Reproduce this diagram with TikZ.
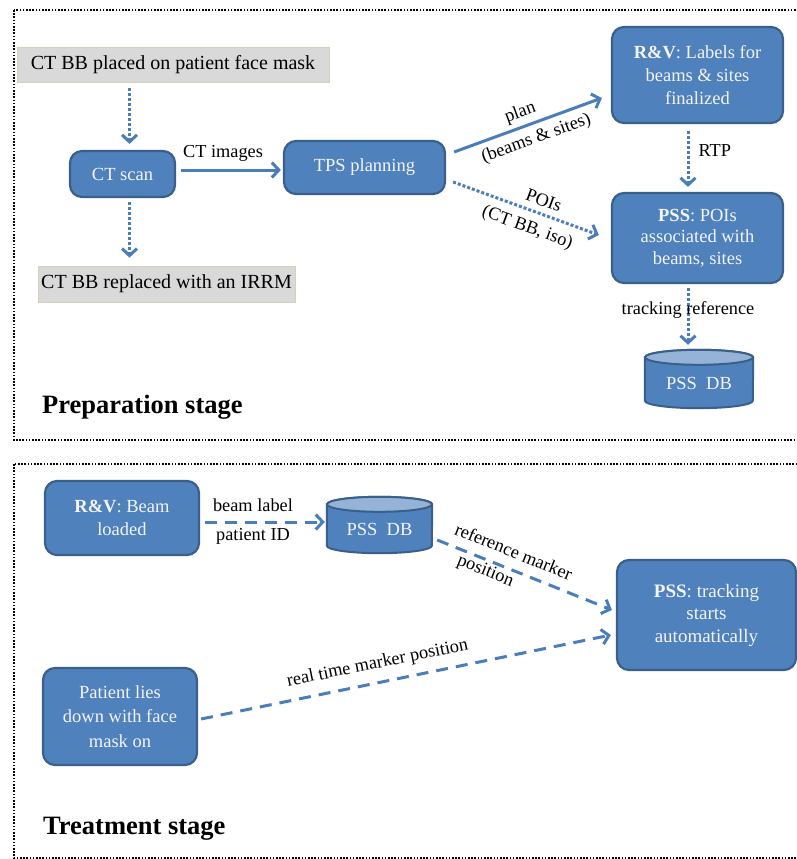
\documentclass[tikz,border=0pt]{standalone}
\usepackage{fontspec}
\setmainfont{Liberation Serif}
\usetikzlibrary{arrows.meta,backgrounds,calc}
\definecolor{boxblue}{HTML}{4F81BD}
\definecolor{boxedge}{HTML}{3A5F8B}
\definecolor{arrblue}{HTML}{4A7EBB}
\definecolor{dbtop}{HTML}{95B3D7}
\definecolor{grayfill}{HTML}{D9D9D9}
\definecolor{grayedge}{HTML}{D6D0B4}
\definecolor{boxtext}{HTML}{F4F4F4}
\newcommand\dbshape[3]{% node, x radius, y radius
  \draw[boxedge, line width=2pt, fill=boxblue]
    ([yshift=-#3]#1.north west) -- ([yshift=#3]#1.south west)
    arc[start angle=180, end angle=360, x radius=#2, y radius=#3]
    -- ([yshift=-#3]#1.north east)
    arc[start angle=0, end angle=180, x radius=#2, y radius=#3] -- cycle;
  \draw[boxedge, line width=2pt, fill=dbtop]
    ([yshift=-#3]#1.north) ellipse [x radius=#2, y radius=#3];
}
\begin{document}
\begin{tikzpicture}[x=1pt,y=-1pt,
 bluebox/.style={draw=boxedge, line width=2.2pt, fill=boxblue, rounded corners=12pt,
   text=boxtext, font=\fontsize{18.5}{23}\selectfont, align=center, inner sep=0pt},
 graybox/.style={draw=grayedge, line width=0.8pt, fill=grayfill,
   font=\fontsize{20}{22}\selectfont, inner sep=0pt},
 dbnode/.style={text=boxtext, font=\fontsize{18.5}{22}\selectfont, inner sep=0pt},
 flow/.style={draw=arrblue, line width=3pt, -{Straight Barb[length=7pt,width=15pt]}},
 dotflow/.style={flow, dash pattern=on 3pt off 2pt},
 dashflow/.style={flow, dash pattern=on 12pt off 8pt},
 lbl/.style={font=\fontsize{18.3}{20}\selectfont, inner sep=1pt},
 frame/.style={draw=black, line width=1.6pt, dash pattern=on 1.6pt off 1.6pt},
 stage/.style={font=\bfseries\fontsize{26.5}{28}\selectfont, anchor=west, inner sep=0pt}
]
\useasboundingbox (0,0) rectangle (797,859);
\clip (0,0) rectangle (797,859);

% frames
\draw[frame] (14,10) rectangle (810,440);
\draw[frame] (14,464) rectangle (810,858);

% preparation stage
\node[graybox, minimum width=312pt, minimum height=35pt] (bbplaced) at (173,64.5) {CT BB placed on patient face mask};
\node[bluebox, minimum width=105pt, minimum height=46pt] (ctscan) at (122.5,174) {CT scan};
\node[graybox, minimum width=257pt, minimum height=36pt] (repl) at (166.5,284) {CT BB replaced with an IRRM};
\node[bluebox, minimum width=161pt, minimum height=53pt] (tps) at (364.5,167.5) {TPS planning};
\node[bluebox, minimum width=171pt, minimum height=96pt] (rv1) at (697.5,75) {\textbf{R\&V}: Labels for\\beams \& sites\\finalized};
\node[bluebox, minimum width=171pt, minimum height=90pt, font=\fontsize{18.5}{21.5}\selectfont] (pss1) at (697.5,238) {\textbf{PSS}: POIs\\associated with\\beams, sites};
\node[dbnode, minimum width=108pt, minimum height=58pt] (db1) at (699,379) {\raisebox{-4pt}[\height][\depth]{PSS\ \ DB}};
\node[stage] (prep) at (42,407) {Preparation stage};

% treatment stage
\node[bluebox, minimum width=154pt, minimum height=74pt] (rv2) at (122,518) {\textbf{R\&V}: Beam\\loaded};
\node[dbnode, minimum width=105pt, minimum height=56pt] (db2) at (379.5,525) {\raisebox{-4pt}[\height][\depth]{PSS\ \ DB}};
\node[bluebox, minimum width=179pt, minimum height=110pt, font=\fontsize{19}{22.5}\selectfont] (pss2) at (706.5,615) {\textbf{PSS}: tracking\\starts\\automatically};
\node[bluebox, minimum width=154pt, minimum height=97pt, font=\fontsize{18.5}{24.5}\selectfont] (patient) at (120,716.5) {Patient lies\\down with face\\mask on};
\node[stage] (treat) at (43,829) {Treatment stage};

\begin{pgfonlayer}{background}
  \dbshape{db1}{54pt}{7.5pt}
  \dbshape{db2}{52.5pt}{7.5pt}
\end{pgfonlayer}

% connectors (preparation)
\draw[dotflow] ($(bbplaced.south -| ctscan.north)+(7,6)$) -- ($(ctscan.north)+(7,-6)$);
\draw[dotflow] ($(ctscan.south)+(7,4)$) -- ($(ctscan.south |- repl.north)+(7,-8)$);
\draw[flow] ($(ctscan.east)+(5,-4)$) -- ($(tps.west |- ctscan.east)+(-2,-4)$)
  node[lbl, pos=0.42, above=6pt] {CT images};
\draw[flow] ($(tps.east)+(8,-15.5)$) -- ($(rv1.west)+(-9,23)$)
  node[lbl, pos=0.48, sloped, above=3pt] {plan}
  node[lbl, pos=0.52, sloped, below=5pt] {(beams \& sites)};
\draw[dotflow] ($(tps.east)+(7,14.5)$) -- ($(pss1.west)+(-12,-3)$)
  node[lbl, pos=0.59, sloped, above=5pt] {POIs}
  node[lbl, pos=0.55, sloped, below=7pt] {(CT BB, iso)};
\draw[dotflow] ($(rv1.south)+(-9.5,7)$) -- ($(pss1.north)+(-9.5,-5)$)
  node[lbl, pos=0.35, right=8pt] {RTP};
\draw[dotflow] ($(pss1.south)+(-9.5,4)$) -- ($(db1.north -| pss1.south)+(-9.5,-5)$)
  node[lbl, pos=0.38] {tracking reference};

% connectors (treatment)
\draw[dashflow] ($(rv2.east)+(5,4)$) -- ($(db2.west |- rv2.east)+(-2,4)$)
  node[lbl, pos=0.4, above=8pt] {beam label}
  node[lbl, pos=0.4, below=4pt] {patient ID};
\draw[dashflow] ($(db2.east)+(5,15)$) -- ($(pss2.west)+(-4,-5)$)
  node[lbl, pos=0.4, sloped, above=9pt] {reference marker}
  node[lbl, pos=0.3, sloped, below=1pt] {position};
\draw[dashflow] ($(patient.east)+(3,2.5)$) -- ($(pss2.west)+(-5,20)$)
  node[lbl, pos=0.44, sloped, above=8pt] {real time marker position};
\end{tikzpicture}
\end{document}
